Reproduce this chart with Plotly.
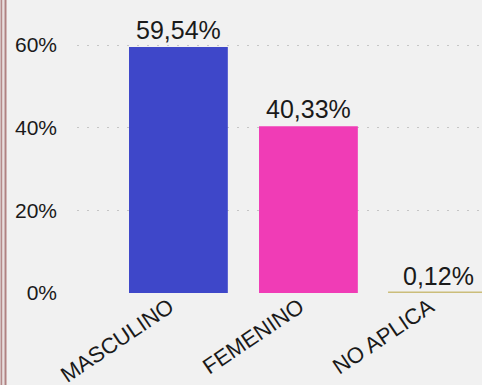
import plotly.graph_objects as go

# Distribución por sexo (porcentaje)
categorias = ["MASCULINO", "FEMENINO", "NO APLICA"]
porcentajes = [59.54, 40.33, 0.12]
colores = ["#3e47c9", "#f03cb6", "#cbbd7a"]
ticks_y = [0, 20, 40, 60]
ticks_y_txt = ["0%", "20%", "40%", "60%"]

W, H = 482, 385
ML, MR, MT, MB = 77, 0, 20, 92
pw = W - ML - MR
ph = H - MT - MB

fig = go.Figure(
    go.Bar(
        x=categorias,
        y=porcentajes,
        width=0.76,
        marker=dict(
            color=colores,
            line=dict(color=colores, width=[0, 0, 2]),
        ),
        texttemplate="%{y:.2f}%",
        textposition="outside",
        textfont=dict(size=25, color="#1a1a1a"),
        cliponaxis=False,
    )
)

# doble borde vertical a la izquierda
def px_x(p):
    return (p - ML) / pw

for x0, col, w in [(1.5, "#b48a8a", 2), (3.5, "#e8dede", 2), (5.5, "#b08282", 2)]:
    fig.add_shape(
        type="line", xref="paper", yref="paper",
        x0=px_x(x0), x1=px_x(x0), y0=-MB / ph, y1=1 + MT / ph,
        line=dict(color=col, width=w), layer="above",
    )

fig.update_layout(
    width=W, height=H,
    margin=dict(l=ML, r=MR, t=MT, b=MB, pad=0),
    paper_bgcolor="#f1f1f1",
    plot_bgcolor="rgba(0,0,0,0)",
    separators=",.",
    showlegend=False,
    font=dict(family="Liberation Sans, Arial, sans-serif", color="#1a1a1a"),
    xaxis=dict(
        range=[-0.78, 2.335],
        tickangle=-34,
        tickfont=dict(size=22),
        showgrid=False,
        showline=False,
        zeroline=False,
        ticks="",
        ticklabelshift=-9,
        ticklabelstandoff=-4,
        automargin=False,
    ),
    yaxis=dict(
        range=[0, 66.05],
        tickvals=ticks_y,
        ticktext=ticks_y_txt,
        tickfont=dict(size=21),
        showgrid=True,
        gridcolor="#c6c6c6",
        griddash="2px,8px",
        gridwidth=1,
        zeroline=False,
        showline=False,
        ticks="",
        ticklabelstandoff=19,
        automargin=False,
    ),
)

fig.write_html("out.html")
